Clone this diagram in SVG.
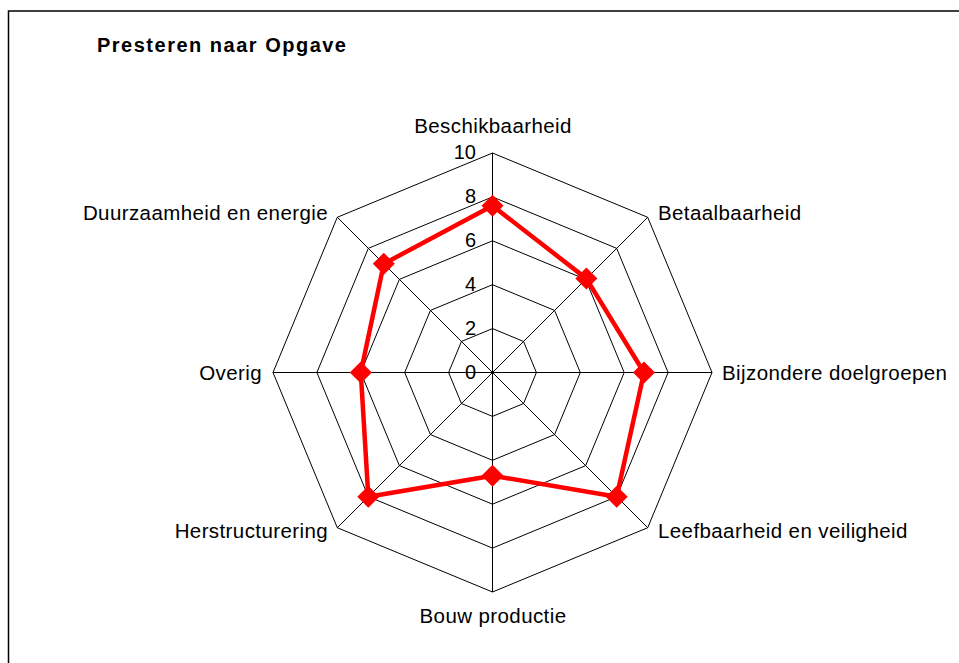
<svg xmlns="http://www.w3.org/2000/svg" width="959" height="663" viewBox="0 0 959 663">
<style>
.lbl{font-family:"Liberation Sans",Arial,sans-serif;font-size:20.5px;letter-spacing:0.4px;fill:#000}
.tick{font-family:"Liberation Sans",Arial,sans-serif;font-size:20px;fill:#000;text-anchor:end}
.ring{fill:none;stroke:#000;stroke-width:1}
.spoke{stroke:#000;stroke-width:1}
.series{fill:none;stroke:#FF0000;stroke-width:4.5;stroke-linejoin:round}
.mk{fill:#FF0000}
</style>
<defs>
<path id="dia" d="M0,-11 L11,0 L0,11 L-11,0 Z"/>
</defs>
<rect x="0" y="0" width="959" height="663" fill="#fff"/>
<rect x="8.5" y="11" width="960" height="670" fill="none" stroke="#000" stroke-width="1.5"/>
<text x="97" y="52" font-family="'Liberation Sans',Arial,sans-serif" font-size="20" font-weight="bold" letter-spacing="1.5">Presteren naar Opgave</text>
<g id="grid">
<polygon class="ring" points="492.5,328.6 523.54,341.46 536.4,372.5 523.54,403.54 492.5,416.4 461.46,403.54 448.6,372.5 461.46,341.46"/>
<polygon class="ring" points="492.5,284.7 554.58,310.42 580.3,372.5 554.58,434.58 492.5,460.3 430.42,434.58 404.7,372.5 430.42,310.42"/>
<polygon class="ring" points="492.5,240.8 585.63,279.37 624.2,372.5 585.63,465.63 492.5,504.2 399.37,465.63 360.8,372.5 399.37,279.37"/>
<polygon class="ring" points="492.5,196.9 616.67,248.33 668.1,372.5 616.67,496.67 492.5,548.1 368.33,496.67 316.9,372.5 368.33,248.33"/>
<polygon class="ring" points="492.5,153 647.71,217.29 712,372.5 647.71,527.71 492.5,592 337.29,527.71 273,372.5 337.29,217.29"/>
</g>
<g id="connectors">
<line class="spoke" x1="492.5" y1="372.5" x2="492.5" y2="153"/>
<line class="spoke" x1="492.5" y1="372.5" x2="647.71" y2="217.29"/>
<line class="spoke" x1="492.5" y1="372.5" x2="712" y2="372.5"/>
<line class="spoke" x1="492.5" y1="372.5" x2="647.71" y2="527.71"/>
<line class="spoke" x1="492.5" y1="372.5" x2="492.5" y2="592"/>
<line class="spoke" x1="492.5" y1="372.5" x2="337.29" y2="527.71"/>
<line class="spoke" x1="492.5" y1="372.5" x2="273" y2="372.5"/>
<line class="spoke" x1="492.5" y1="372.5" x2="337.29" y2="217.29"/>
</g>
<g id="ticks">
<text class="tick" x="476" y="379">0</text>
<text class="tick" x="476" y="335">2</text>
<text class="tick" x="476" y="291">4</text>
<text class="tick" x="476" y="247">6</text>
<text class="tick" x="476" y="203">8</text>
<text class="tick" x="476" y="159">10</text>
</g>
<g id="labels">
<text id="beschikbaarheid" class="lbl" x="493" y="133" text-anchor="middle">Beschikbaarheid</text>
<text id="betaalbaarheid" class="lbl" x="658" y="220">Betaalbaarheid</text>
<text id="bijzondere" class="lbl" x="722" y="380">Bijzondere doelgroepen</text>
<text id="leefbaarheid" class="lbl" x="658" y="538">Leefbaarheid en veiligheid</text>
<text id="bouw" class="lbl" x="493" y="623" text-anchor="middle">Bouw productie</text>
<text id="herstructurering" class="lbl" x="328" y="538" text-anchor="end">Herstructurering</text>
<text id="overig" class="lbl" x="262" y="380" text-anchor="end">Overig</text>
<text id="duurzaamheid" class="lbl" x="328" y="220" text-anchor="end">Duurzaamheid en energie</text>
</g>
<g id="series">
<polygon class="series" points="492.5,205.7 586.4,278.6 644,372.5 616.7,496.7 492.5,475.7 368.3,496.7 360.8,372.5 383.8,263.8"/>
<use href="#dia" class="mk" x="492.5" y="205.7"/>
<use href="#dia" class="mk" x="586.4" y="278.6"/>
<use href="#dia" class="mk" x="644" y="372.5"/>
<use href="#dia" class="mk" x="616.7" y="496.7"/>
<use href="#dia" class="mk" x="492.5" y="475.7"/>
<use href="#dia" class="mk" x="368.3" y="496.7"/>
<use href="#dia" class="mk" x="360.8" y="372.5"/>
<use href="#dia" class="mk" x="383.8" y="263.8"/>
</g>
</svg>
